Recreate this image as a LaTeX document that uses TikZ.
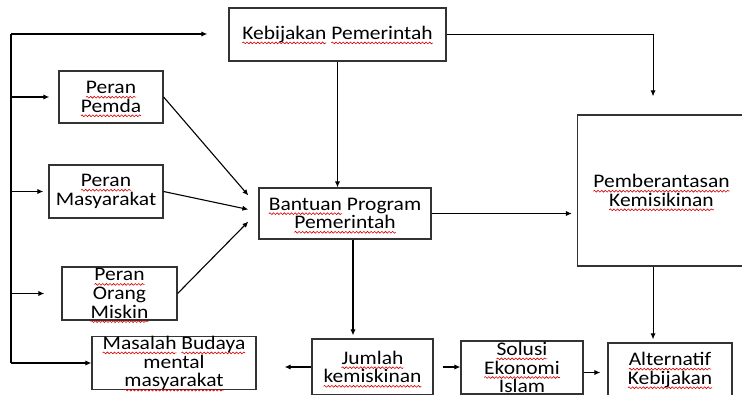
\documentclass[tikz,border=0pt]{standalone}
\usepackage{fontspec}
\setmainfont{Carlito}[FakeStretch=1.12]
\usetikzlibrary{arrows.meta,calc,decorations.pathmorphing}

% red wavy spell-check underline
\newsavebox\spellbox
\newlength\spellwd
\newcommand\spell[1]{\sbox\spellbox{#1}\setlength\spellwd{\wd\spellbox}%
  \rlap{\tikz[overlay,baseline=0pt,x=1pt,y=1pt]\draw[red!85!black, line width=0.3pt, decorate, decoration={snake,amplitude=0.45pt,segment length=1.8pt}] (0,-1.7) -- (\spellwd,-1.7);}\usebox\spellbox}

\begin{document}
\begin{tikzpicture}[x=0.5pt,y=-0.5pt]

\tikzstyle{box} = [draw=black!80, line width=0.6pt, inner sep=0pt, align=center, font=\fontsize{9.6}{9.3}\selectfont]
\tikzstyle{arr} = [-{Latex[length=3pt,width=2.6pt]}, line width=0.55pt]

\useasboundingbox (0,0) rectangle (742,395);

%------------------------------------------------------------
	\node[box, minimum width=108.5pt, minimum height=26.5pt] (keb) at (337.5,34.5) {\spell{Kebijakan} \spell{Pemerintah}};
	\node[box, minimum width=86pt, minimum height=25.5pt] (bantuan) at (345,213.5) {\spell{Bantuan} Program\\\spell{Pemerintah}};
	\node[box, minimum width=84pt, minimum height=75.5pt] (berantas) at (661.5,190.5) {\spell{Pemberantasan}\\\spell{Kemisikinan}};

%------------------------------------------------------------
	\node[box, minimum width=52pt, minimum height=26pt] (pemda) at (111,97) {\spell{Peran}\\\spell{Pemda}};
	\node[box, minimum width=57pt, minimum height=26.5pt] (masy) at (106,191.5) {\spell{Peran}\\Masyarakat};
	\node[box, minimum width=57.5pt, minimum height=26.5pt] (miskin) at (119.5,293.5) {\spell{Peran}\\Orang\\\spell{Miskin}};
	\node[box, minimum width=82pt, minimum height=26pt] (budaya) at (174,363) {\spell{Masalah} \spell{Budaya}\\mental\\\spell{masyarakat}};

%------------------------------------------------------------
	\node[box, minimum width=60.5pt, minimum height=28pt] (jumlah) at (372.5,367) {\spell{Jumlah}\\\spell{kemiskinan}};
	\node[box, minimum width=61pt, minimum height=26.5pt] (solusi) at (522,367.5) {\spell{Solusi}\\\spell{Ekonomi}\\Islam};
	\node[box, minimum width=62pt, minimum height=27pt] (alt) at (670,370) {\spell{Alternatif}\\\spell{Kebijakan}};

%------------------------------------------------------------
	\coordinate (top) at (11,34);
	\coordinate (bn) at ($(berantas.north west)!0.45!(berantas.north east)$);
	\coordinate (bs) at ($(berantas.south west)!0.45!(berantas.south east)$);
	\coordinate (bj) at ($(bantuan.south)+(8,0)$);
	\coordinate (sa) at ($(solusi.east)+(0,5)$);
	\coordinate (b1) at ($(bantuan.west)+(-10,-18)$);
	\coordinate (b2) at ($(bantuan.west)+(-10,-4)$);
	\coordinate (b3) at ($(bantuan.west)+(-10,8)$);

	\draw[line width=1pt] (top) -- (top |- budaya);
	\draw[arr, shorten >=10.5pt] (top) -- (top -| keb.west);
	\draw[arr, shorten >=4.5pt] (top |- pemda) -- (pemda.west);
	\draw[arr, shorten >=2.5pt] (top |- masy) -- (masy.west);
	\draw[arr, shorten >=8.5pt] (top |- miskin) -- (miskin.west);
	\draw[arr] (top |- budaya) -- (budaya.west);

	\draw[arr] (pemda.east) -- (b1);
	\draw[arr] (masy.east) -- (b2);
	\draw[arr] (miskin.east) -- (b3);

	\draw[arr] (keb.south) -- (keb.south |- bantuan.north);
	\draw[arr, shorten >=9pt] (keb.east) -| (bn);
	\draw[arr, shorten >=2.5pt] (bantuan.east) -- (bantuan.east -| berantas.west);
	\draw[arr, shorten >=1.5pt] (bj) -- (bj |- jumlah.north);
	\draw[arr, shorten >=1.5pt] (bs) -- (bs |- alt.north);

	\draw[arr, shorten >=14pt] (jumlah.west) -- (jumlah.west -| budaya.east);
	\draw[arr, shorten <=4.5pt] (jumlah.east) -- (jumlah.east -| solusi.west);
	\draw[arr, shorten >=3.5pt] (sa) -- (sa -| alt.west);

\end{tikzpicture}
\end{document}
